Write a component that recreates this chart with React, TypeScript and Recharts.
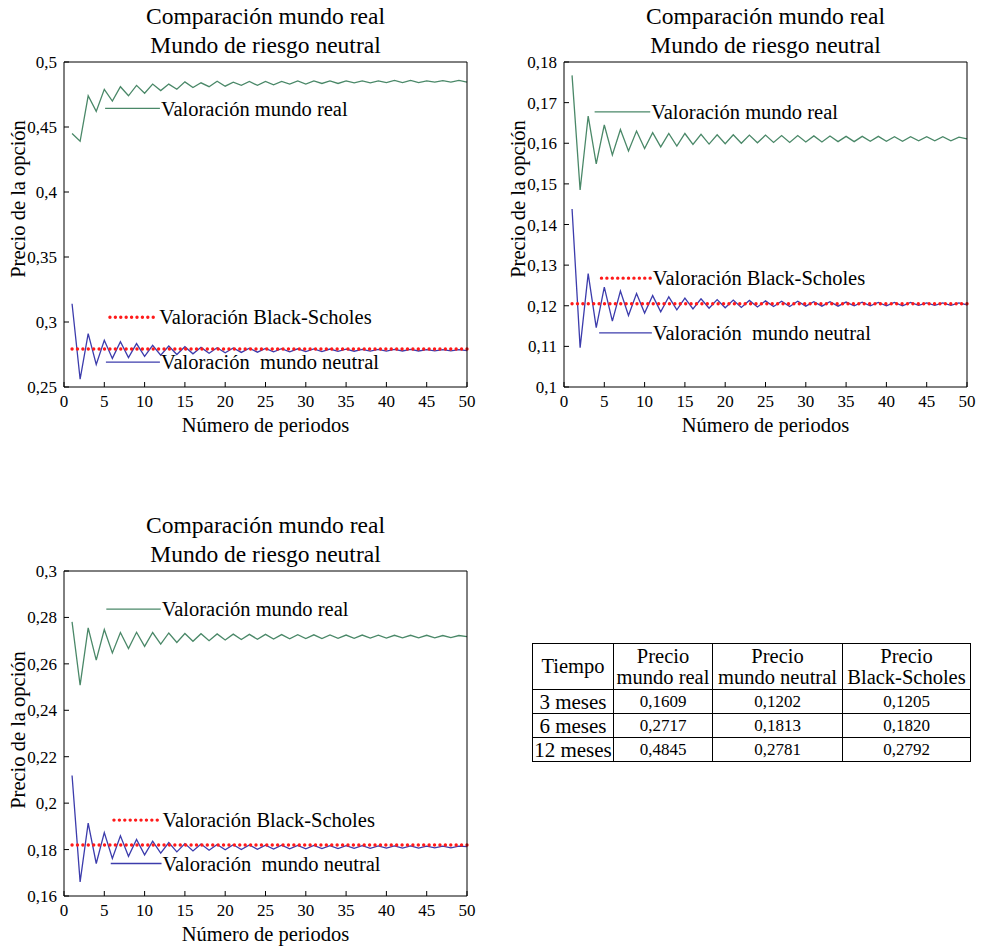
import React from 'react';
import { LineChart, Line, XAxis, YAxis, ReferenceLine } from 'recharts';

const FONT = '"Liberation Serif", "Times New Roman", serif';
const GREEN = '#4a8868';
const BLUE = '#3c3cac';
const RED = '#ff1a1a';

const PERIODS = Array.from({ length: 50 }, (_, i) => i + 1);
const X_TICKS = [0, 5, 10, 15, 20, 25, 30, 35, 40, 45, 50];

// 12 meses
const REAL_12M = [
  0.445, 0.439, 0.474, 0.462, 0.479, 0.470, 0.481, 0.474, 0.482, 0.476,
  0.483, 0.478, 0.483, 0.479, 0.4847, 0.4804, 0.484, 0.481, 0.4852, 0.4814,
  0.4845, 0.482, 0.485, 0.482, 0.485, 0.4825, 0.485, 0.483, 0.4855, 0.483,
  0.4855, 0.4835, 0.4855, 0.4835, 0.4855, 0.484, 0.4855, 0.484, 0.4855, 0.4842,
  0.4858, 0.4842, 0.4858, 0.4842, 0.4855, 0.4845, 0.4857, 0.4845, 0.4858, 0.4845,
];
const NEUTRAL_12M = [
  0.314, 0.256, 0.291, 0.2674, 0.286, 0.272, 0.2848, 0.2726, 0.2834, 0.2735,
  0.282, 0.2745, 0.2815, 0.275, 0.281, 0.2755, 0.2805, 0.276, 0.2802, 0.2763,
  0.28, 0.2766, 0.2798, 0.2768, 0.2797, 0.277, 0.2795, 0.2771, 0.2794, 0.2772,
  0.2793, 0.2773, 0.2792, 0.2774, 0.2791, 0.2775, 0.279, 0.2776, 0.279, 0.2776,
  0.2789, 0.2777, 0.2789, 0.2777, 0.2788, 0.2778, 0.2788, 0.2778, 0.2787, 0.2779,
];

// 3 meses
const REAL_3M = [
  0.1767, 0.1485, 0.1667, 0.1549, 0.1645, 0.1571, 0.1634, 0.1581, 0.163, 0.1587,
  0.1626, 0.1591, 0.1624, 0.1593, 0.1624, 0.1597, 0.1622, 0.1598, 0.1621, 0.1599,
  0.1621, 0.16, 0.162, 0.1601, 0.162, 0.1602, 0.1619, 0.1602, 0.1619, 0.1603,
  0.1618, 0.1603, 0.1618, 0.1604, 0.1617, 0.1604, 0.1617, 0.1605, 0.1617, 0.1605,
  0.1616, 0.1605, 0.1616, 0.1606, 0.1616, 0.1606, 0.1616, 0.1606, 0.1615, 0.1611,
];
const NEUTRAL_3M = [
  0.1438, 0.1097, 0.1279, 0.1146, 0.1246, 0.1162, 0.1236, 0.1176, 0.123, 0.1182,
  0.1225, 0.1185, 0.1222, 0.119, 0.1219, 0.1192, 0.1217, 0.1194, 0.1215, 0.1195,
  0.1214, 0.1196, 0.1213, 0.1197, 0.1212, 0.1198, 0.1211, 0.1198, 0.1211, 0.1199,
  0.121, 0.1199, 0.121, 0.1199, 0.1209, 0.12, 0.1209, 0.12, 0.1208, 0.12,
  0.1208, 0.12, 0.1208, 0.1201, 0.1207, 0.1201, 0.1207, 0.1201, 0.1207, 0.1202,
];

// 6 meses
const REAL_6M = [
  0.2781, 0.2508, 0.2755, 0.2616, 0.2748, 0.2647, 0.2735, 0.2666, 0.2736, 0.2675,
  0.2735, 0.2685, 0.2733, 0.2692, 0.2731, 0.2697, 0.273, 0.27, 0.2729, 0.2703,
  0.2728, 0.2705, 0.2727, 0.2706, 0.2727, 0.2707, 0.2726, 0.2708, 0.2726, 0.2709,
  0.2725, 0.2709, 0.2725, 0.271, 0.2724, 0.271, 0.2724, 0.2711, 0.2724, 0.2711,
  0.2723, 0.2712, 0.2723, 0.2712, 0.2723, 0.2712, 0.2722, 0.2713, 0.2722, 0.2717,
];
const NEUTRAL_6M = [
  0.2119, 0.1661, 0.1914, 0.174, 0.1873, 0.1762, 0.1859, 0.1771, 0.1844, 0.1777,
  0.1836, 0.1785, 0.183, 0.179, 0.1826, 0.1794, 0.1824, 0.1797, 0.1822, 0.1799,
  0.1821, 0.18, 0.182, 0.1801, 0.1819, 0.1802, 0.1819, 0.1803, 0.1818, 0.1803,
  0.1818, 0.1804, 0.1817, 0.1804, 0.1817, 0.1805, 0.1817, 0.1805, 0.1816, 0.1806,
  0.1816, 0.1806, 0.1816, 0.1806, 0.1815, 0.1807, 0.1815, 0.1807, 0.1815, 0.1813,
];

const Y_TICKS_12M = [0.25, 0.3, 0.35, 0.4, 0.45, 0.5];
const Y_TICKS_3M = [0.1, 0.11, 0.12, 0.13, 0.14, 0.15, 0.16, 0.17, 0.18];
const Y_TICKS_6M = [0.16, 0.18, 0.2, 0.22, 0.24, 0.26, 0.28, 0.3];

// tabla resumen
const TIEMPOS = ['3 meses', '6 meses', '12 meses'];
const PRECIO_REAL = [0.1609, 0.2717, 0.4845];
const PRECIO_NEUTRAL = [0.1202, 0.1813, 0.2781];
const PRECIO_BS = [0.1205, 0.182, 0.2792];

const fmt = (v: number) => String(v).replace('.', ',');
const fmt4 = (v: number) => v.toFixed(4).replace('.', ',');

type Seg = [number, number, number];

function legendLine(seg: Seg, text: string, color: string, dotted: boolean) {
  return (
    <ReferenceLine
      segment={[{ x: seg[0], y: seg[2] }, { x: seg[1], y: seg[2] }]}
      stroke={color}
      strokeWidth={dotted ? 3.4 : 1.3}
      strokeDasharray={dotted ? '0.01 5.4' : undefined}
      strokeLinecap={dotted ? 'round' : undefined}
      label={{ value: text, position: 'right', offset: 1, fontSize: 20.5, fill: '#000' }}
    />
  );
}

interface ChartProps {
  left: number;
  top: number;
  real: number[];
  neutral: number[];
  bs: number;
  domain: [number, number];
  ticks: number[];
  realLeg: Seg;
  bsLeg: Seg;
  neutralLeg: Seg;
  yLabelY: number;
}

function OptionChart(p: ChartProps) {
  const rows = PERIODS.map((n, i) => ({ n, real: p.real[i], neutral: p.neutral[i] }));
  const tickStyle = { fill: '#000', fontSize: 17 };
  return (
    <div style={{ position: 'absolute', left: p.left, top: p.top, width: 480, height: 440 }}>
      <LineChart width={480} height={440} data={rows} margin={{ top: 61, right: 12, bottom: 0, left: 10 }}>
        <XAxis dataKey="n" type="number" domain={[0, 50]} ticks={X_TICKS} interval={0} height={53}
          tickSize={-5} tickMargin={13} stroke="#000" tick={tickStyle} />
        <XAxis xAxisId="t" orientation="top" type="number" domain={[0, 50]} ticks={X_TICKS} interval={0}
          height={1} tickSize={-5} stroke="#000" tick={false} />
        <YAxis type="number" domain={p.domain} ticks={p.ticks} interval={0} width={54}
          tickSize={-5} tickMargin={12} tickFormatter={fmt} stroke="#000" tick={tickStyle} />
        <YAxis yAxisId="r" orientation="right" type="number" domain={p.domain} ticks={p.ticks} interval={0}
          width={1} tickSize={-5} stroke="#000" tick={false} />
        <Line dataKey="real" stroke={GREEN} strokeWidth={1.3} dot={false} activeDot={false} isAnimationActive={false} />
        <Line dataKey="neutral" stroke={BLUE} strokeWidth={1.3} dot={false} activeDot={false} isAnimationActive={false} />
        <ReferenceLine segment={[{ x: 1, y: p.bs }, { x: 50, y: p.bs }]} stroke={RED} strokeWidth={3.4}
          strokeDasharray="0.01 5.4" strokeLinecap="round" />
        {legendLine(p.realLeg, 'Valoración mundo real', GREEN, false)}
        {legendLine(p.bsLeg, 'Valoración Black-Scholes', RED, true)}
        {legendLine(p.neutralLeg, 'Valoración\u00A0 mundo neutral', BLUE, false)}
      </LineChart>
      <svg width={480} height={440} style={{ position: 'absolute', left: 0, top: 0, pointerEvents: 'none' }}
        fontFamily={FONT} fill="#000">
        <text x={265.5} y={24} textAnchor="middle" fontSize={23.5}>Comparación mundo real</text>
        <text x={265.5} y={53} textAnchor="middle" fontSize={23.5}>Mundo de riesgo neutral</text>
        <text x={265.5} y={432} textAnchor="middle" fontSize={20.5}>Número de periodos</text>
        <text transform={`translate(17.5 ${p.yLabelY}) rotate(-90)`} textAnchor="middle" dy="0.35em" fontSize={20.5}>
          Precio de la opción
        </text>
      </svg>
    </div>
  );
}

const cell: React.CSSProperties = { border: '1px solid #000', padding: 0, textAlign: 'center', verticalAlign: 'middle' };

function Tabla() {
  return (
    <table style={{ position: 'absolute', left: 532, top: 643, borderCollapse: 'collapse', tableLayout: 'fixed',
      width: 438, fontFamily: FONT, color: '#000' }}>
      <colgroup>
        <col style={{ width: 81 }} />
        <col style={{ width: 99 }} />
        <col style={{ width: 130 }} />
        <col style={{ width: 128 }} />
      </colgroup>
      <tbody>
        <tr style={{ height: 46, fontSize: 20.5, lineHeight: '21px' }}>
          <td style={cell}>Tiempo</td>
          <td style={cell}>Precio<br />mundo real</td>
          <td style={cell}>Precio<br />mundo neutral</td>
          <td style={cell}>Precio<br />Black-Scholes</td>
        </tr>
        {TIEMPOS.map((t, i) => (
          <tr key={t} style={{ height: 24, lineHeight: '22px' }}>
            <td style={{ ...cell, fontSize: 21 }}>{t}</td>
            <td style={{ ...cell, fontSize: 17 }}>{fmt4(PRECIO_REAL[i])}</td>
            <td style={{ ...cell, fontSize: 17 }}>{fmt4(PRECIO_NEUTRAL[i])}</td>
            <td style={{ ...cell, fontSize: 17 }}>{fmt4(PRECIO_BS[i])}</td>
          </tr>
        ))}
      </tbody>
    </table>
  );
}

export default function App() {
  return (
    <div style={{ position: 'absolute', left: 0, top: 0, width: 981, height: 947, background: '#fff', fontFamily: FONT }}>
      <OptionChart left={0} top={0} real={REAL_12M} neutral={NEUTRAL_12M} bs={PRECIO_BS[2]}
        domain={[0.25, 0.5]} ticks={Y_TICKS_12M}
        realLeg={[5.1, 11.9, 0.4643]} bsLeg={[5.7, 11.7, 0.3037]} neutralLeg={[5.2, 11.9, 0.2692]} yLabelY={199} />
      <OptionChart left={500} top={0} real={REAL_3M} neutral={NEUTRAL_3M} bs={PRECIO_BS[0]}
        domain={[0.1, 0.18]} ticks={Y_TICKS_3M}
        realLeg={[3.8, 10.7, 0.1677]} bsLeg={[4.65, 10.9, 0.1268]} neutralLeg={[4.36, 10.9, 0.1133]} yLabelY={199} />
      <OptionChart left={0} top={509} real={REAL_6M} neutral={NEUTRAL_6M} bs={PRECIO_BS[1]}
        domain={[0.16, 0.3]} ticks={Y_TICKS_6M}
        realLeg={[5.25, 12.0, 0.2836]} bsLeg={[6.2, 12.1, 0.1927]} neutralLeg={[5.8, 12.1, 0.174]} yLabelY={221} />
      <Tabla />
    </div>
  );
}
